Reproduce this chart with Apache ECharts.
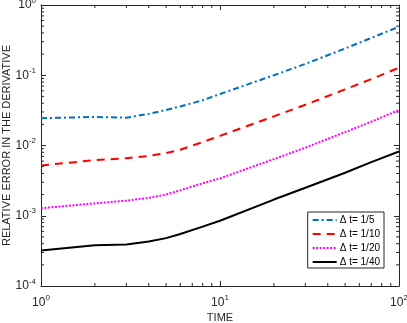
<!DOCTYPE html>
<html><head><meta charset="utf-8">
<script src="https://cdn.jsdelivr.net/npm/echarts@6/dist/echarts.min.js"></script>
<style>html,body{margin:0;padding:0;background:#fff}#c{width:407px;height:323px}</style>
</head><body><div id="c"></div>
<script>
const times = [1, 2, 3, 4, 5, 6, 8, 10, 20, 30, 50, 70, 100];
const err5  = [0.0245, 0.0255, 0.0249, 0.0282, 0.032, 0.036, 0.044, 0.054, 0.100, 0.145, 0.240, 0.340, 0.490];
const err10 = [0.0052, 0.0062, 0.0066, 0.0071, 0.0078, 0.0087, 0.0112, 0.0137, 0.026, 0.038, 0.063, 0.088, 0.128];
const err20 = [0.00128, 0.0015, 0.00164, 0.0018, 0.0020, 0.0023, 0.0029, 0.0034, 0.0064, 0.0093, 0.0155, 0.0218, 0.032];
const err40 = [0.00032, 0.00038, 0.00039, 0.00043, 0.00048, 0.00055, 0.0007, 0.00085, 0.0017, 0.0025, 0.0041, 0.0058, 0.0082];
const names = ['\u0394 t= 1/5', '\u0394 t= 1/10', '\u0394 t= 1/20', '\u0394 t= 1/40'];
const xMin = 1, xMax = 100, yMin = 1e-4, yMax = 1;

const FONT = 'Liberation Sans';
const TXT = '#262626';
function pairs(ys){ return times.map((t,i)=>[t, ys[i]]); }
function supFmt(v){ const e = Math.round(Math.log10(v)); return '{b|10}{s|' + e + '}'; }
const rich = { b:{fontSize:12, fontFamily:FONT, color:TXT}, s:{fontSize:8, fontFamily:FONT, color:TXT, padding:[0,0,9,0]} };

// minor tick positions (2..9 per decade)
const xMinor = [], yMinor = [];
for (let d = 1; d < 100; d *= 10) for (let k = 2; k <= 9; k++) xMinor.push(k*d);
for (let d = 1e-4; d < 0.99; d *= 10) for (let k = 2; k <= 9; k++) yMinor.push(k*d);
const minorData = [];
xMinor.forEach(v => { minorData.push([v, yMin, 0]); minorData.push([v, yMax, 1]); });
yMinor.forEach(v => { minorData.push([xMin, v, 2]); minorData.push([xMax, v, 3]); });

const axisBase = { type:'log', logBase:10,
  axisLine:{show:true, onZero:false, lineStyle:{color:TXT, width:1}},
  axisTick:{show:true, inside:true, length:5, lineStyle:{color:TXT}},
  splitLine:{show:false}, minorTick:{show:false} };

const chart = echarts.init(document.getElementById('c'), null, {renderer:'canvas'});
chart.setOption({
  backgroundColor:'#fff',
  animation:false,
  grid:{left:41, right:8, top:5, bottom:37, containLabel:false, outerBoundsMode:'none'},
  xAxis:[
    Object.assign({}, axisBase, {min:xMin, max:xMax, position:'bottom', splitNumber:2,
      axisLabel:{formatter:supFmt, rich:rich, margin:8},
      name:'TIME', nameLocation:'middle', nameGap:26, nameMoveOverlap:false,
      nameTextStyle:{fontSize:11, fontFamily:FONT, color:TXT}}),
    Object.assign({}, axisBase, {min:xMin, max:xMax, position:'top', splitNumber:2, axisLabel:{show:false}})
  ],
  yAxis:[
    Object.assign({}, axisBase, {min:yMin, max:yMax, position:'left', splitNumber:4,
      axisLabel:{formatter:supFmt, rich:rich, margin:5},
      name:'RELATIVE ERROR IN THE DERIVATIVE', nameLocation:'middle', nameGap:29, nameMoveOverlap:false,
      nameTextStyle:{fontSize:11, fontFamily:FONT, color:TXT}}),
    Object.assign({}, axisBase, {min:yMin, max:yMax, position:'right', splitNumber:4, axisLabel:{show:false}})
  ],
  legend:{
    orient:'vertical', right:23, bottom:55,
    backgroundColor:'#fff', borderColor:TXT, borderWidth:1, borderRadius:0,
    padding:[3,4,1,4], itemGap:4, itemWidth:24, itemHeight:10,
    itemStyle:{opacity:0},
    textStyle:{fontSize:10, fontFamily:FONT, color:'#000', padding:[0,0,0,-2]},
    data:names
  },
  series:[
    {name:names[0], type:'line', data:pairs(err5), symbol:'none', smooth:false,
     lineStyle:{color:'#0072BD', width:2, type:[6,3,2,3]}, itemStyle:{color:'#0072BD'}},
    {name:names[1], type:'line', data:pairs(err10), symbol:'none',
     lineStyle:{color:'#FF0000', width:2, type:[8,6]}, itemStyle:{color:'#FF0000'}},
    {name:names[2], type:'line', data:pairs(err20), symbol:'none',
     lineStyle:{color:'#FF00FF', width:2, type:[2,1.5]}, itemStyle:{color:'#FF00FF'}},
    {name:names[3], type:'line', data:pairs(err40), symbol:'none',
     lineStyle:{color:'#000000', width:2, type:'solid'}, itemStyle:{color:'#000'}},
    {type:'custom', silent:true, data:minorData, clip:false, z:1,
     renderItem:function(params, api){
       const p = api.coord([api.value(0), api.value(1)]);
       const side = api.value(2), L = 3;
       let x2 = p[0], y2 = p[1];
       if (side===0) y2 = p[1]-L; else if (side===1) y2 = p[1]+L;
       else if (side===2) x2 = p[0]+L; else x2 = p[0]-L;
       return {type:'line', shape:{x1:p[0], y1:p[1], x2:x2, y2:y2}, style:{stroke:TXT, lineWidth:1}};
     }}
  ]
});
</script></body></html>
